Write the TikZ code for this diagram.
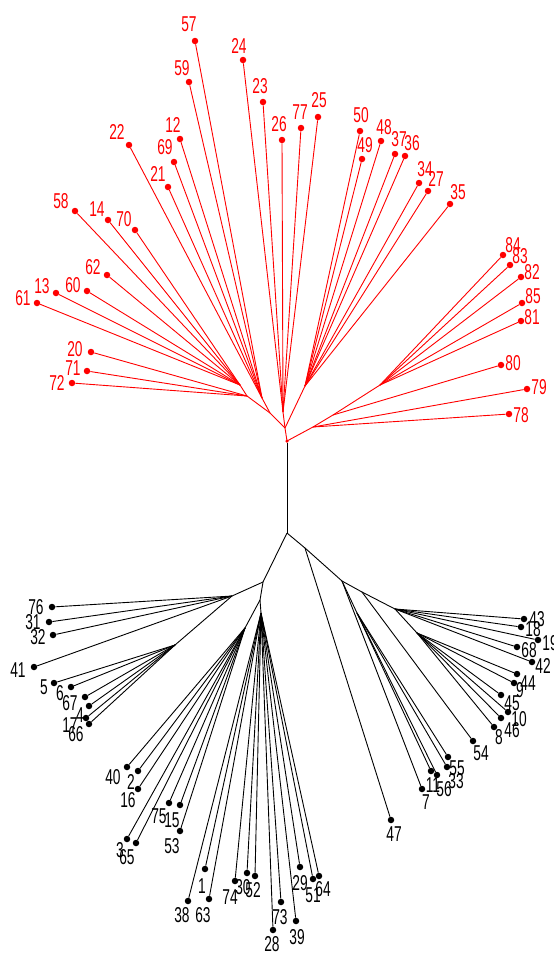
\documentclass[tikz,border=0pt]{standalone}
\usepackage{fontspec}
\usepackage{graphicx}
\newfontfamily\lblfont{Liberation Sans}
\tikzset{
  edge/.style={line width=0.9pt},
  dotnode/.style={circle,fill,inner sep=0pt,minimum size=6.5pt},
  lab/.style={inner sep=0pt,anchor=center,font=\lblfont\fontsize{21.5}{21.5}\selectfont},
}
\newcommand{\lf}[5]{%
  \node[dotnode] (#1) at (#2) {};
  \node[lab] (#1l) at (#3) {\scalebox{0.64}[1]{#4}};
  \draw[edge] (#5) -- (#1);
}
\begin{document}
\begin{tikzpicture}[x=1pt,y=-1pt]
\useasboundingbox (0,0) rectangle (554,954);
\fill[white] (0,0) rectangle (554,954);
% ---------- red subtree ----------
\begin{scope}[color=red]
\coordinate (R0) at (287,441);
\coordinate (T) at (285,428);
\coordinate (G1) at (283,412);
\coordinate (G2) at (305,386);
\coordinate (G3) at (270,413);
\coordinate (GU) at (262,398);
\coordinate (GL) at (247,396);
\coordinate (GM) at (240,385);
\coordinate (A) at (313,427);
\coordinate (B) at (333,415);
\coordinate (C) at (380,385);
\draw[edge] (R0) -- (T);
\draw[edge] (T) -- (G1);
\draw[edge] (T) -- (G2);
\draw[edge] (T) -- (G3);
\draw[edge] (G3) -- (GU);
\draw[edge] (G3) -- (GL);
\draw[edge] (GL) -- (GM);
\draw[edge] (R0) -- (A);
\draw[edge] (A) -- (B);
\draw[edge] (B) -- (C);
% vertical fan
\lf{n24}{243,60}{239,46}{24}{G1}
\lf{n23}{263,102}{260,86}{23}{G1}
\lf{n26}{282,140}{279,124}{26}{G1}
\lf{n77}{301,128}{300,112}{77}{G1}
\lf{n25}{318,117}{319,100}{25}{G1}
% upper right fan
\lf{n50}{360,131}{361,115}{50}{G2}
\lf{n49}{362,159}{365,145}{49}{G2}
\lf{n48}{381,141}{384,127}{48}{G2}
\lf{n37}{395,154}{399,139}{37}{G2}
\lf{n36}{405,156}{412,143}{36}{G2}
\lf{n34}{419,183}{425,169}{34}{G2}
\lf{n27}{428,191}{436,179}{27}{G2}
\lf{n35}{450,204}{458,192}{35}{G2}
% upper left fan
\lf{n57}{195,41}{189,24}{57}{GU}
\lf{n59}{189,82}{182,68}{59}{GU}
\lf{n12}{180,139}{173,125}{12}{GU}
\lf{n69}{174,162}{165,147}{69}{GU}
\lf{n21}{168,187}{158,174}{21}{GU}
\lf{n22}{129,145}{117,132}{22}{GU}
% left fan
\lf{n58}{75,211}{61,201}{58}{GM}
\lf{n14}{108,220}{97,209}{14}{GM}
\lf{n70}{135,230}{124,219}{70}{GM}
\lf{n62}{107,275}{93,267}{62}{GM}
\lf{n60}{87,291}{73,285}{60}{GM}
\lf{n13}{56,293}{42,286}{13}{GM}
\lf{n61}{37,303}{23,298}{61}{GM}
\lf{n20}{91,352}{75,349}{20}{GL}
\lf{n71}{87,371}{73,368}{71}{GL}
\lf{n72}{72,383}{57,383}{72}{GL}
% right fan
\lf{n78}{509,414}{521,415}{78}{A}
\lf{n79}{527,389}{539,387}{79}{A}
\lf{n80}{501,365}{513,363}{80}{B}
\lf{n81}{521,321}{532,317}{81}{C}
\lf{n85}{522,303}{533,296}{85}{C}
\lf{n82}{521,277}{532,272}{82}{C}
\lf{n83}{510,265}{520,256}{83}{C}
\lf{n84}{503,255}{513,245}{84}{C}
\node[circle,fill,inner sep=0pt,minimum size=3.5pt] (R0dot) at (R0) {};
\end{scope}
% ---------- black subtree ----------
\begin{scope}[color=black]
\coordinate (B0) at (287,533);
\coordinate (J1) at (305,548);
\coordinate (J2) at (342,581);
\coordinate (J3) at (362,592);
\coordinate (J4) at (395,609);
\coordinate (J5) at (417,633);
\coordinate (J6) at (357,613);
\coordinate (K1) at (263,582);
\coordinate (K2) at (232,596);
\coordinate (K2b) at (175,645);
\coordinate (K3) at (260,600);
\coordinate (K4) at (245,628);
\coordinate (K5) at (261,613);
\draw[edge] (R0dot) -- (B0);
\draw[edge] (B0) -- (J1);
\draw[edge] (J1) -- (J2);
\draw[edge] (J2) -- (J3);
\draw[edge] (J3) -- (J4);
\draw[edge] (J4) -- (J5);
\draw[edge] (J2) -- (J6);
\draw[edge] (B0) -- (K1);
\draw[edge] (K1) -- (K2);
\draw[edge] (K2) -- (K2b);
\draw[edge] (K1) -- (K3);
\draw[edge] (K3) -- (K4);
\draw[edge] (K3) -- (K5);
% right part
\lf{n47}{391,820}{394,834}{47}{J1}
\lf{n7}{422,789}{426,802}{7}{J2}
\lf{n11}{431,771}{433,785}{11}{J6}
\lf{n56}{437,775}{444,789}{56}{J6}
\lf{n55}{448,757}{457,768}{55}{J6}
\lf{n33}{447,767}{456,781}{33}{J6}
\lf{n54}{473,741}{481,753}{54}{J3}
\lf{n43}{524,619}{537,619}{43}{J4}
\lf{n18}{521,627}{533,629}{18}{J4}
\lf{n19}{538,640}{550,643}{19}{J4}
\lf{n68}{517,647}{529,650}{68}{J4}
\lf{n42}{532,662}{543,666}{42}{J4}
\lf{n44}{517,674}{528,683}{44}{J5}
\lf{n9}{514,683}{520,690}{9}{J5}
\lf{n45}{501,695}{512,703}{45}{J5}
\lf{n10}{508,712}{519,719}{10}{J5}
\lf{n46}{501,718}{512,730}{46}{J5}
\lf{n8}{494,727}{499,737}{8}{J5}
% left part
\lf{n76}{52,607}{36,607}{76}{K2}
\lf{n31}{49,622}{33,622}{31}{K2}
\lf{n32}{53,635}{38,637}{32}{K2}
\lf{n41}{34,667}{18,670}{41}{K2}
\lf{n5}{54,683}{44,687}{5}{K2b}
\lf{n6}{71,687}{60,693}{6}{K2b}
\lf{n67}{85,697}{70,703}{67}{K2b}
\lf{n4}{89,706}{80,715}{4}{K2b}
\lf{n17}{86,718}{70,725}{17}{K2b}
\lf{n66}{89,724}{76,734}{66}{K2b}
% lower left fan
\lf{n40}{127,767}{113,777}{40}{K4}
\lf{n2}{138,771}{131,782}{2}{K4}
\lf{n16}{138,789}{128,800}{16}{K4}
\lf{n75}{169,803}{159,816}{75}{K4}
\lf{n15}{180,805}{172,820}{15}{K4}
\lf{n53}{180,831}{172,846}{53}{K4}
\lf{n3}{127,839}{120,850}{3}{K4}
\lf{n65}{136,843}{127,857}{65}{K4}
% bottom fan
\lf{n1}{205,869}{202,886}{1}{K5}
\lf{n38}{188,901}{182,915}{38}{K5}
\lf{n63}{209,899}{203,915}{63}{K5}
\lf{n74}{235,881}{230,897}{74}{K5}
\lf{n30}{247,873}{243,887}{30}{K5}
\lf{n52}{255,876}{253,890}{52}{K5}
\lf{n28}{273,930}{272,944}{28}{K5}
\lf{n73}{281,902}{280,917}{73}{K5}
\lf{n39}{296,921}{297,937}{39}{K5}
\lf{n29}{300,867}{300,883}{29}{K5}
\lf{n51}{313,879}{313,895}{51}{K5}
\lf{n64}{319,876}{323,889}{64}{K5}
\end{scope}
\end{tikzpicture}
\end{document}
